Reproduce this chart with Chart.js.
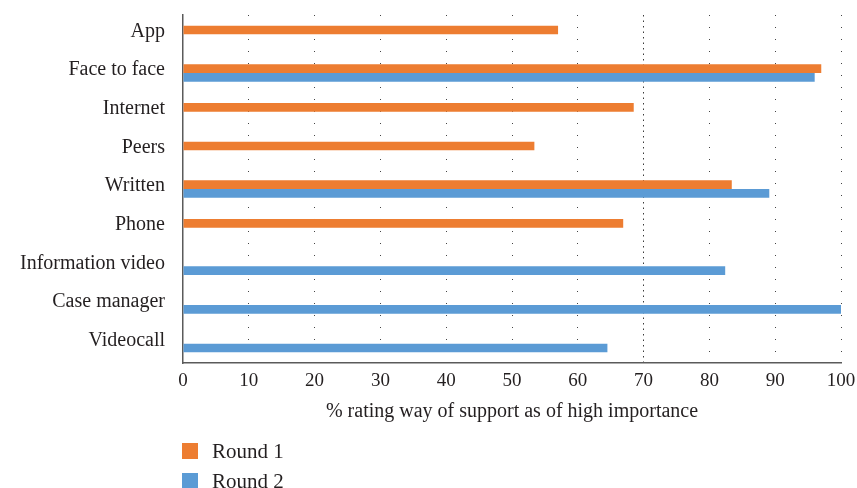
<!DOCTYPE html>
<html>
<head>
<meta charset="utf-8">
<script src="https://cdn.jsdelivr.net/npm/chart.js@4"></script>
<style>
  html,body{margin:0;padding:0;background:#fff}
  #wrap{position:relative;width:857px;height:488px}
  #legend{position:absolute;left:182px;top:436px;font-family:"Liberation Serif",serif;font-size:21px;color:#231f20}
  #legend .it{display:flex;align-items:center;height:30px}
  #legend .sw{width:16px;height:16px;margin-right:14px}
</style>
</head>
<body>
<div id="wrap">
  <canvas id="ch-support"></canvas>
  <div id="legend"></div>
</div>
<script>
// ===================== DATA =====================
const categorias=['App','Face to face','Internet','Peers','Written','Phone','Information video','Case manager','Videocall'];
const round1=[57,97,68.5,53.4,83.4,66.9,null,null,null];
const round2=[null,96,null,null,89.1,null,82.4,100,64.5];
const serieNombres=['Round 1','Round 2'];
const serieColores=['#ed7d31','#5b9bd5'];
const xMin=0,xMax=100,xPaso=10,xRef=70;
const tituloX='% rating way of support as of high importance';

const TXT='#231f20', EJE='#5a5a5a';
const fuente='"Liberation Serif", "Times New Roman", serif';

const el=document.getElementById('ch-support');
new Chart(el,{type:'bar',
  data:{labels:categorias,datasets:[
    {label:serieNombres[0],data:round1,backgroundColor:serieColores[0]},
    {label:serieNombres[1],data:round2,backgroundColor:serieColores[1]}
  ]},
  options:{indexAxis:'y',responsive:true,maintainAspectRatio:false,animation:false,
    categoryPercentage:.45,barPercentage:1,
    layout:{padding:{top:15,right:0,bottom:64,left:0}},
    plugins:{legend:{display:false},tooltip:{enabled:false}},
    scales:{
      y:{grid:{display:false},border:{display:true,color:EJE,width:1.5},
        ticks:{color:TXT,font:{family:fuente,size:20},padding:10,labelOffset:-3},
        afterFit:s=>{s.width=183;s.paddingTop=0;s.paddingBottom=0;}},
      x:{min:xMin,max:xMax,
        ticks:{stepSize:xPaso,color:TXT,font:{family:fuente,size:19},padding:7},
        grid:{drawTicks:false,lineWidth:1,
          color:c=>(c.tick&&c.tick.value===xMin)?'rgba(0,0,0,0)':(c.tick&&c.tick.value===xRef?'#3a3a3a':'#444')},
        border:{display:true,color:EJE,width:1.5,
          dash:c=>(c.tick&&c.tick.value===xRef)?[1.5,4]:[1,11]},
        title:{display:true,text:tituloX,color:TXT,font:{family:fuente,size:20},padding:{top:8,bottom:0}},
        afterFit:s=>{s.height=61;s.paddingRight=16;}}
    }}
});

// leyenda vertical abajo a la izquierda
document.getElementById('legend').innerHTML=serieNombres.map((n,i)=>
  `<div class="it"><span class="sw" style="background:${serieColores[i]}"></span>${n}</div>`).join('');
</script>
</body>
</html>
